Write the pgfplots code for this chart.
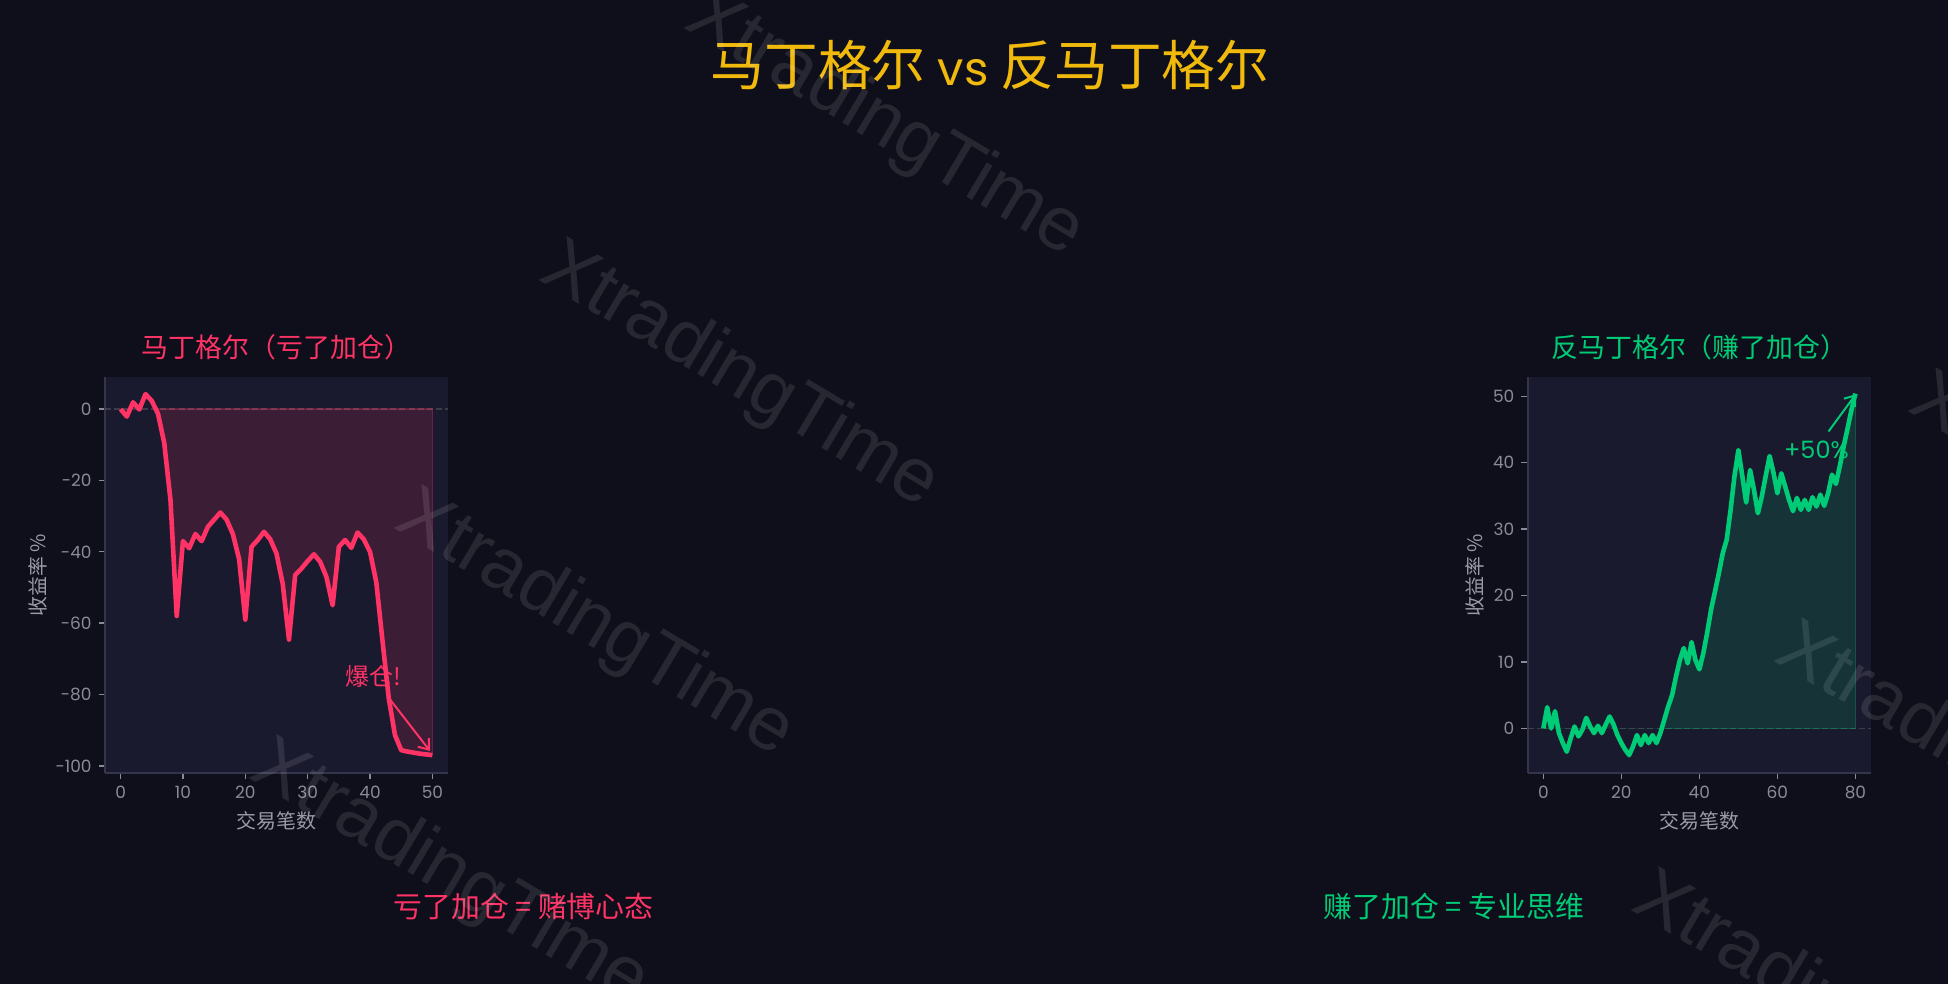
\documentclass[border=0pt]{standalone}
\usepackage{pgfplots}
\usepackage{pgfplotstable}
\pgfplotsset{compat=1.18}
\usepackage{fontspec}
\setmainfont{Poppins}
\newfontfamily\cjk{Noto Sans CJK SC}
\newfontfamily\wm{Liberation Sans}
\usetikzlibrary{arrows.meta}
\definecolor{figbg}{HTML}{0E0F1A}
\definecolor{axbg}{HTML}{1A1A2E}
\definecolor{pinkc}{HTML}{FF3366}
\definecolor{greenc}{HTML}{00CC77}
\definecolor{yel}{HTML}{F0B90B}
\definecolor{tickc}{HTML}{8A8A99}
\definecolor{labc}{HTML}{9A9AA8}
\definecolor{spine}{HTML}{34344C}

\pgfplotstableread{
x y
0 0
1 -2.1
2 1.9
3 -0.1
4 4.2
5 2.3
6 -1.3
7 -9.5
8 -25.5
9 -58
10 -37
11 -39
12 -35
13 -37
14 -33
15 -31
16 -29
17 -31
18 -35
19 -42
20 -59
21 -38.6
22 -36.7
23 -34.4
24 -36.5
25 -40.5
26 -49
27 -64.6
28 -46.5
29 -44.7
30 -42.6
31 -40.7
32 -42.8
33 -47
34 -55
35 -38.6
36 -36.7
37 -38.9
38 -34.6
39 -36.5
40 -40
41 -48.5
42 -65
43 -81
44 -91.4
45 -95.6
46 -96
47 -96.3
48 -96.6
49 -96.8
50 -97
}\leftdata

\pgfplotstableread{
x y
0 0
1 3.2
2 0
3 2.6
4 -0.7
5 -2.2
6 -3.5
7 -1.5
8 0.3
9 -1.2
10 -0.2
11 1.6
12 0.3
13 -0.7
14 0.4
15 -0.7
16 0.6
17 1.8
18 0.6
19 -1
20 -2.2
21 -3.2
22 -4
23 -2.7
24 -1
25 -2.5
26 -1
27 -2.2
28 -1
29 -2.2
30 -0.7
31 1.3
32 3.3
33 5
34 7.8
35 10.3
36 12.1
37 9.8
38 13
39 10.3
40 8.9
41 11.3
42 14.4
43 17.9
44 20.6
45 23.4
46 26.4
47 28.4
48 32.9
49 38
50 41.9
51 38
52 34
53 38.9
54 35.9
55 32.4
56 34.9
57 38
58 41
59 38.5
60 35.4
61 38.4
62 36.4
63 34.4
64 32.7
65 34.7
66 32.9
67 34.4
68 32.9
69 34.8
70 33.4
71 35.2
72 33.5
73 35.4
74 38.2
75 36.8
76 39.5
77 42.5
78 45.2
79 48
80 50.4
}\rightdata

\pgfplotsset{
  mystyle/.style={
    scale only axis, height=198bp,
    axis background/.style={fill=axbg},
    axis x line*=bottom, axis y line*=left,
    axis line style={-, draw=spine, line width=1bp},
    xtick pos=left, ytick pos=left, tick align=outside,
    major tick length=3.2bp,
    tick style={draw=tickc, line width=0.7bp},
    ticklabel style={font=\fontsize{8.5}{10}\selectfont, text=tickc},
    /pgf/number format/assume math mode=true,
    label style={font=\cjk\fontsize{10}{12}\selectfont, text=labc},
    xlabel style={at={(axis description cs:0.5,-0.1212)}, anchor=center},
    title style={at={(axis description cs:0.5,1.0455)}, anchor=center, font=\cjk\fontsize{13.5}{16}\selectfont},
  }
}

\begin{document}
\begin{tikzpicture}[x=1bp,y=1bp]
\fill[figbg] (0,0) rectangle (974,492);
\path[use as bounding box] (0,0) rectangle (974,492);

% main title
\node[text=yel, font=\cjk\fontsize{27}{32}\selectfont, anchor=center, inner sep=0pt] at (495,459.5) {马丁格尔\hspace{6bp}{\fontspec{Poppins}\fontsize{23.5}{28}\selectfont vs}\hspace{6bp}反马丁格尔};

% left axis
\begin{axis}[mystyle, at={(52.5bp,105.5bp)}, anchor=south west, width=171.5bp,
  xmin=-2.5, xmax=52.5, ymin=-102, ymax=9,
  xtick={0,10,...,50}, ytick={-100,-80,...,0},
  title={马丁格尔（亏了加仓）}, title style={text=pinkc},
  xlabel={交易笔数}, ylabel={收益率 \%},
  every axis y label/.style={at={(axis description cs:-0.1953,0.5)}, rotate=90, anchor=center, font=\cjk\fontsize{10}{12}\selectfont, text=labc}]
\addplot[gray, opacity=0.35, line width=0.6bp, dash pattern=on 3bp off 1.6bp] coordinates {(-2.5,0) (52.5,0)};
\begin{scope}
\clip (axis cs:-10,0) rectangle (axis cs:60,-120);
\addplot[draw=none, fill=pinkc, fill opacity=0.15] table {\leftdata} \closedcycle;
\end{scope}
\addplot[pinkc, opacity=0.3, line width=0.6bp] coordinates {(6,0) (50,0) (50,-97)};
\addplot[pinkc, line width=2.3bp, line join=round] table {\leftdata};
\node[text=pinkc, font=\cjk\fontsize{12}{14}\selectfont] at (axis cs:40.5,-74.9) {爆仓!};
\draw[pinkc, line width=1bp, -{Straight Barb[length=4.5bp,width=7bp]}] (axis cs:42.9,-80.7) -- (axis cs:49.6,-95.8);
\end{axis}

% right axis
\begin{axis}[mystyle, at={(763.85bp,105.5bp)}, anchor=south west, width=171.65bp,
  xmin=-4, xmax=84, ymin=-6.7, ymax=52.9,
  xtick={0,20,...,80}, ytick={0,10,...,50},
  title={反马丁格尔（赚了加仓）}, title style={text=greenc},
  xlabel={交易笔数}, ylabel={收益率 \%},
  every axis y label/.style={at={(axis description cs:-0.1535,0.5)}, rotate=90, anchor=center, font=\cjk\fontsize{10}{12}\selectfont, text=labc}]
\addplot[gray, opacity=0.35, line width=0.6bp, dash pattern=on 3bp off 1.6bp] coordinates {(-4,0) (84,0)};
\begin{scope}
\clip (axis cs:-10,0) rectangle (axis cs:90,60);
\addplot[draw=none, fill=greenc, fill opacity=0.15] table {\rightdata} \closedcycle;
\end{scope}
\addplot[greenc, opacity=0.3, line width=0.6bp] coordinates {(30.5,0) (80,0) (80,50.4)};
\addplot[greenc, line width=2.3bp, line join=round] table {\rightdata};
\node[text=greenc, font=\fontsize{12}{14}\selectfont] at (axis cs:70,42) {+50\%};
\draw[greenc, line width=1bp, -{Straight Barb[length=4.5bp,width=7bp]}] (axis cs:73.1,44.7) -- (axis cs:80.1,50.3);
\end{axis}

% bottom texts
\node[text=pinkc, font=\cjk\fontsize{14.5}{17}\selectfont] at (261.8,38.75) {亏了加仓 = 赌博心态};
\node[text=greenc, font=\cjk\fontsize{14.5}{17}\selectfont] at (727,38.75) {赚了加仓 = 专业思维};

% watermarks
\begin{scope}
\clip (0,0) rectangle (974,492);
\foreach \p in {(515,554.5),(442.5,429.25),(370,303.5),(297.5,179.25),(225,54.5),(1054.5,238),(987.5,113),(916,-11.5)}{
  \node[text=white, text opacity=0.1, rotate=-30.8, font=\wm\fontsize{38}{44}\selectfont] at \p {XtradingTime};
}
\end{scope}
\end{tikzpicture}
\end{document}
